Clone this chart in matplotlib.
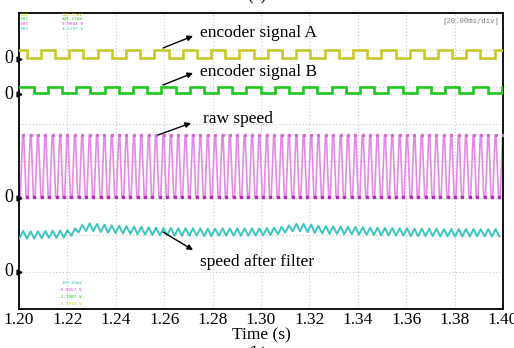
import numpy as np
import matplotlib
matplotlib.use("Agg")
import matplotlib.pyplot as plt

# ---------------- data (time in s, amplitude in scope divisions) ----------------
x_ticks = [1.20, 1.22, 1.24, 1.26, 1.28, 1.30, 1.32, 1.34, 1.36, 1.38, 1.40]
x_tick_labels = ["1.20", "1.22", "1.24", "1.26", "1.28", "1.30", "1.32", "1.34", "1.36", "1.38", "1.40"]

# encoder A (square wave): starts high
encA_fall = [1.2032, 1.2149, 1.2266, 1.2384, 1.2501, 1.2618, 1.2735, 1.2852, 1.2970,
             1.3087, 1.3204, 1.3321, 1.3438, 1.3556, 1.3673, 1.3790, 1.3907]
encA_rise = [1.2091, 1.2208, 1.2325, 1.2442, 1.2559, 1.2677, 1.2794, 1.2911, 1.3028,
             1.3145, 1.3263, 1.3380, 1.3497, 1.3614, 1.3731, 1.3849, 1.3966]
encA_high, encA_low = 7.00, 6.78

# encoder B (square wave): starts high
encB_fall = [1.2061, 1.2178, 1.2295, 1.2413, 1.2530, 1.2647, 1.2764, 1.2881, 1.2999,
             1.3116, 1.3233, 1.3350, 1.3467, 1.3585, 1.3702, 1.3819, 1.3936]
encB_rise = [1.2120, 1.2237, 1.2354, 1.2471, 1.2588, 1.2706, 1.2823, 1.2940, 1.3057,
             1.3174, 1.3292, 1.3409, 1.3526, 1.3643, 1.3760, 1.3878, 1.3995]
encB_high, encB_low = 6.00, 5.83

# raw speed: trough instants of each pulse
raw_trough = [1.2002, 1.2033, 1.2063, 1.2094, 1.2124, 1.2155, 1.2185, 1.2216, 1.2246, 1.2277,
              1.2307, 1.2338, 1.2368, 1.2399, 1.2429, 1.2460, 1.2490, 1.2521, 1.2551, 1.2582,
              1.2612, 1.2643, 1.2673, 1.2704, 1.2734, 1.2765, 1.2795, 1.2826, 1.2856, 1.2887,
              1.2917, 1.2948, 1.2978, 1.3009, 1.3039, 1.3070, 1.3100, 1.3131, 1.3161, 1.3192,
              1.3222, 1.3253, 1.3283, 1.3314, 1.3344, 1.3375, 1.3405, 1.3436, 1.3466, 1.3497,
              1.3527, 1.3558, 1.3588, 1.3619, 1.3649, 1.3680, 1.3710, 1.3741, 1.3771, 1.3802,
              1.3832, 1.3863, 1.3893, 1.3924, 1.3954, 1.3985]
raw_high, raw_low = 4.70, 3.02

# speed after filter: ripple centre per pulse
filt_center = [2.01, 2.00, 2.00, 2.01, 2.02, 2.02, 2.03, 2.08, 2.17, 2.21,
               2.20, 2.18, 2.16, 2.15, 2.14, 2.13, 2.12, 2.11, 2.10, 2.09,
               2.09, 2.08, 2.08, 2.08, 2.08, 2.07, 2.07, 2.08, 2.08, 2.08,
               2.08, 2.08, 2.08, 2.09, 2.10, 2.12, 2.16, 2.20, 2.20, 2.18,
               2.15, 2.14, 2.13, 2.13, 2.12, 2.12, 2.11, 2.10, 2.10, 2.09,
               2.09, 2.08, 2.08, 2.07, 2.07, 2.07, 2.07, 2.06, 2.06, 2.06,
               2.06, 2.06, 2.06, 2.06, 2.06, 2.06]
filt_ripple = 0.10

zero_levels = [6.76, 5.80, 3.00, 1.00]

# ---------------- figure ----------------
W, H = 514, 348
fig = plt.figure(figsize=(W / 100, H / 100), dpi=100)
L, R, T, B = 19, 503, 13, 309
ax = fig.add_axes([L / W, (H - B) / H, (R - L) / W, (B - T) / H])
ax.set_xlim(1.20, 1.40)
ax.set_ylim(0, 8)

serif = ["Liberation Serif", "DejaVu Serif"]

# grid
for xv in x_ticks[1:-1]:
    ax.axvline(xv, color="#c8c8c8", lw=0.8, ls=(0, (1, 2)), zorder=0)
for yv in range(1, 8):
    ax.axhline(yv, color="#c8c8c8", lw=0.8, ls=(0, (1, 2)), zorder=0)


def square(fall, rise, hi, lo, t0=1.2, t1=1.4):
    ts, vs = [t0], [hi]
    edges = sorted([(f, 0) for f in fall] + [(r, 1) for r in rise])
    cur = hi
    for t, kind in edges:
        nv = lo if kind == 0 else hi
        ts += [t, t]
        vs += [cur, nv]
        cur = nv
    ts.append(t1)
    vs.append(cur)
    return np.array(ts), np.array(vs)


tA, vA = square(encA_fall, encA_rise, encA_high, encA_low)
ax.plot(tA, vA, color="#c9c92a", lw=1.9, solid_joinstyle="miter", zorder=3)
tB, vB = square(encB_fall, encB_rise, encB_high, encB_low)
ax.plot(tB, vB, color="#1fc81f", lw=1.9, solid_joinstyle="miter", zorder=3)

# raw speed pulses
half = 0.00152
dw = 0.00035
tr, vr = [], []
for tk in raw_trough:
    tr += [tk - dw, tk + dw, tk + half - 0.0002, tk + half + 0.0002]
    vr += [raw_low, raw_low, raw_high, raw_high]
tr = np.array(tr)
vr = np.array(vr)
m = (tr >= 1.2) & (tr <= 1.4)
ax.plot(tr[m], vr[m], color="#e48ae4", lw=1.2, zorder=2)
ax.plot(raw_trough, [raw_low] * len(raw_trough), ls="none", marker="s", ms=2.0,
        color="#b52ab5", zorder=3)
ax.plot(np.array(raw_trough) + half, [raw_high] * len(raw_trough), ls="none", marker="s",
        ms=1.3, color="#d868d8", zorder=3)

# filtered speed ripple
tf, vf = [], []
for tk, c in zip(raw_trough, filt_center):
    tf += [tk, tk + half]
    vf += [c - filt_ripple, c + filt_ripple]
tf = np.array(tf)
vf = np.array(vf)
m = tf <= 1.4
ax.plot(tf[m], vf[m], color="#3cc4c4", lw=1.4, zorder=3)

# axes styling
for s in ax.spines.values():
    s.set_linewidth(1.3)
    s.set_color("black")
ax.set_yticks([])
ax.set_xticks(x_ticks)
ax.set_xticklabels(x_tick_labels, family=serif, fontsize=12.5)
ax.tick_params(axis="x", length=0, pad=2)
ax.set_xlabel("Time (s)", family=serif, fontsize=12.5, labelpad=0)

# zero markers
for z in zero_levels:
    ax.text(-0.012, z, "0", transform=ax.get_yaxis_transform(), ha="right", va="center",
            family=serif, fontsize=13)
    ax.plot([1.2], [z], marker=">", ms=3.5, color="black", clip_on=False, zorder=5,
            transform=ax.transData)


def fp(px, py):
    return (px / W, 1 - py / H)


# annotations
notes = [
    ("encoder signal A", (163, 48), (193, 36), (200, 33)),
    ("encoder signal B", (163, 85), (193, 73), (200, 72)),
    ("raw speed", (158, 135), (191, 123), (203, 119)),
    ("speed after filter", (163, 232), (193, 250), (200, 262)),
]
for txt, start, end, tpos in notes:
    ax.annotate("", xy=fp(*end), xytext=fp(*start), xycoords="figure fraction",
                textcoords="figure fraction",
                arrowprops=dict(arrowstyle="-|>", color="black", lw=1.0, mutation_scale=8,
                                shrinkA=0, shrinkB=0))
    fig.text(*fp(*tpos), txt, ha="left", va="center", family=serif, fontsize=12.5)

# scope readouts
mono = ["DejaVu Sans Mono"]
ch_rows = [("CH1", "202.15mV", "#c9c92a", 15), ("CH2", "421.27mV", "#1fc81f", 19.5),
           ("CH3", "9.9943 V", "#d040d0", 24), ("CH4", "4.1197 V", "#3cc4c4", 28.5)]
for lab, val, col, py in ch_rows:
    fig.text(*fp(21, py), lab, color=col, fontsize=3.2, family=mono, va="center", ha="left")
    fig.text(*fp(62, py), val, color=col, fontsize=3.2, family=mono, va="center", ha="left")
bot_rows = [("129.69mV", "#3cc4c4", 283), ("-6.0057 V", "#d040d0", 290),
            ("-1.1987 V", "#1fc81f", 297), ("-1.3978 V", "#c9c92a", 304)]
for val, col, py in bot_rows:
    fig.text(*fp(82, py), val, color=col, fontsize=3.2, family=mono, va="center", ha="right")
fig.text(*fp(499, 21), "[20.00ms/div]", color="#808080", fontsize=5.2, family=mono,
         va="center", ha="right")

# partially visible panel captions
fig.text(*fp(257, -4), "(a)", family=serif, fontsize=12.5, ha="center", va="center")
fig.text(*fp(257, 353), "(b)", family=serif, fontsize=12.5, ha="center", va="center")

fig.savefig("out.png", dpi=100)
